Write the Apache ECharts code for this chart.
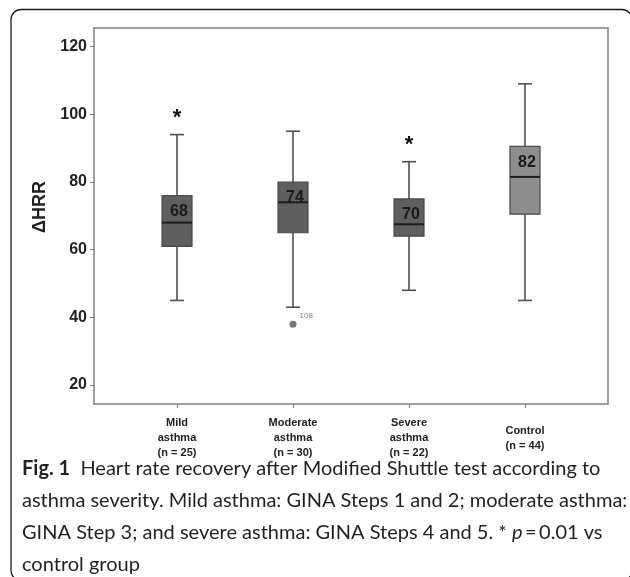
<!DOCTYPE html>
<html>
<head>
<meta charset="utf-8">
<script src="https://cdn.jsdelivr.net/npm/echarts@6/dist/echarts.min.js"></script>
<style>
  html, body { margin: 0; padding: 0; background: #fff; }
  #chart { width: 630px; height: 577px; }
</style>
</head>
<body>
<div id="chart"></div>
<script>
// groups along the x axis
const groups = ['Mild\nasthma\n(n = 25)', 'Moderate\nasthma\n(n = 30)', 'Severe\nasthma\n(n = 22)', 'Control\n(n = 44)'];
// box statistics (ΔHRR)
const lowWhisker = [45, 43, 48, 45];
const q1 = [61, 65, 64, 70.5];
const median = [68, 74, 67.5, 81.5];
const q3 = [76, 80, 75, 90.5];
const highWhisker = [94, 95, 86, 109];
// numbers printed in the boxes
const medianText = ['68', '74', '70', '82'];
// * p = 0.01 vs control
const significant = [true, false, true, false];
// outliers
const outlierGroup = [1];
const outlierValue = [38];
const outlierId = ['108'];
const yTicks = [20, 40, 60, 80, 100, 120];

const chart = echarts.init(document.getElementById('chart'));

const boxRows = groups.map((g, i) => [i, lowWhisker[i], q1[i], median[i], q3[i], highWhisker[i]]);
const outliers = outlierGroup.map((g, i) => ({ value: [g, outlierValue[i]], id: outlierId[i] }));

function renderBox(params, api) {
  const i = api.value(0);
  const lo = api.coord([i, api.value(1)]);
  const b1 = api.coord([i, api.value(2)]);
  const md = api.coord([i, api.value(3)]);
  const b3 = api.coord([i, api.value(4)]);
  const hi = api.coord([i, api.value(5)]);
  const x = lo[0];
  const hw = 15, cw = 7;
  const wl = { stroke: '#505050', lineWidth: 1.6 };
  const kids = [
    { type: 'line', shape: { x1: x, y1: hi[1], x2: x, y2: b3[1] }, style: wl },
    { type: 'line', shape: { x1: x, y1: b1[1], x2: x, y2: lo[1] }, style: wl },
    { type: 'line', shape: { x1: x - cw, y1: hi[1], x2: x + cw, y2: hi[1] }, style: wl },
    { type: 'line', shape: { x1: x - cw, y1: lo[1], x2: x + cw, y2: lo[1] }, style: wl },
    { type: 'rect', shape: { x: x - hw, y: b3[1], width: hw * 2, height: b1[1] - b3[1] },
      style: { fill: i === 3 ? '#8d8d8d' : '#5f5f5f', stroke: '#4a4a4a', lineWidth: 1.2 } },
    { type: 'line', shape: { x1: x - hw, y1: md[1], x2: x + hw, y2: md[1] }, style: { stroke: '#1c1c1c', lineWidth: 2 } },
    { type: 'text', x: x + 2, y: b3[1] + 16,
      style: { text: medianText[i], font: 'bold 16px "Liberation Sans"', fill: '#1a1a1a', align: 'center', verticalAlign: 'middle' } }
  ];
  if (significant[i]) {
    kids.push({ type: 'text', x: x, y: hi[1] - 17,
      style: { text: '*', font: 'bold 22px "Liberation Sans"', fill: '#111', align: 'center', verticalAlign: 'middle' } });
  }
  return { type: 'group', children: kids };
}

const option = {
  animation: false,
  grid: {
    left: 94, right: 22, top: 28, bottom: 173,
    show: true, borderColor: '#9e9e9e', borderWidth: 2
  },
  xAxis: {
    type: 'value',
    min: -0.7155, max: 3.7155,
    axisLine: { show: false, onZero: false },
    splitLine: { show: false },
    axisTick: { customValues: [0, 1, 2, 3], length: 4, lineStyle: { color: '#777' } },
    axisLabel: {
      customValues: [0, 1, 2, 3],
      formatter: v => groups[Math.round(v)],
      fontFamily: 'Liberation Sans', fontWeight: 'bold', fontSize: 11, lineHeight: 15,
      color: '#222', verticalAlign: 'middle', margin: 34
    }
  },
  yAxis: {
    type: 'value',
    min: 14.4, max: 125.5,
    name: 'ΔHRR',
    nameLocation: 'middle',
    nameGap: 36,
    nameTextStyle: { fontFamily: 'Liberation Sans', fontWeight: 'bold', fontSize: 18, color: '#222', padding: [0, 0, 0, 18] },
    axisLine: { show: false, onZero: false },
    splitLine: { show: false },
    axisTick: { show: true, customValues: yTicks, length: 4, lineStyle: { color: '#777' } },
    axisLabel: { customValues: yTicks, margin: 7, fontFamily: 'Liberation Sans', fontWeight: 'bold', fontSize: 16, color: '#222' }
  },
  graphic: [
    { type: 'rect', shape: { x: 11, y: 9.5, width: 621, height: 571, r: 10 },
      style: { fill: 'none', stroke: '#1a1a1a', lineWidth: 1.3 } },
    { type: 'text', left: 22, top: 453,
      style: {
        text: '{b|Fig. 1}  Heart rate recovery after Modified Shuttle test according to\n' +
              'asthma severity. Mild asthma: GINA Steps 1 and 2; moderate asthma:\n' +
              'GINA Step 3; and severe asthma: GINA Steps 4 and 5. * {i|p}\u2009=\u20090.01 vs\n' +
              'control group',
        font: '20px Lato', fill: '#231f20', lineHeight: 32,
        rich: {
          b: { font: 'bold 20px Lato', fill: '#231f20', lineHeight: 32 },
          i: { font: 'italic 20px Lato', fill: '#231f20', lineHeight: 32 }
        }
      } }
  ],
  series: [
    {
      type: 'custom',
      renderItem: renderBox,
      encode: { x: 0, y: [1, 2, 3, 4, 5] },
      data: boxRows,
      z: 3
    },
    {
      type: 'scatter',
      symbolSize: 7,
      itemStyle: { color: '#555' },
      label: { show: true, formatter: p => p.data.id, position: 'right', offset: [-2, -8], fontSize: 8, color: '#666' },
      data: outliers,
      z: 4
    }
  ]
};

chart.setOption(option);
</script>
</body>
</html>
